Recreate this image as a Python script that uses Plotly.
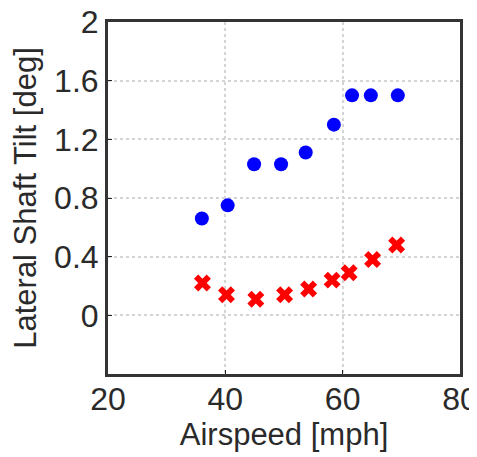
import plotly.graph_objects as go

airspeed_blue = [36.0, 40.4, 44.9, 49.5, 53.7, 58.5, 61.6, 64.8, 69.4]
tilt_blue = [0.66, 0.75, 1.03, 1.03, 1.11, 1.30, 1.50, 1.50, 1.50]

airspeed_red = [36.1, 40.2, 45.2, 50.1, 54.2, 58.2, 61.1, 65.1, 69.2]
tilt_red = [0.22, 0.14, 0.11, 0.14, 0.18, 0.24, 0.29, 0.38, 0.48]

x_ticks = [20, 40, 60, 80]
y_ticks = [0, 0.4, 0.8, 1.2, 1.6, 2]
y_tick_labels = ["0", "0.4", "0.8", "1.2", "1.6", "2"]

fig = go.Figure()
fig.add_trace(go.Scatter(x=airspeed_blue, y=tilt_blue, mode="markers",
                         marker=dict(symbol="circle", size=14, color="#0000ff"),
                         showlegend=False))
fig.add_trace(go.Scatter(x=airspeed_red, y=tilt_red, mode="markers",
                         marker=dict(symbol="x", size=15, color="#ff0000",
                                     line=dict(width=0)),
                         showlegend=False))

tick_font = dict(family="Liberation Sans, Arial, sans-serif", size=32, color="#2a2a2a")
title_font = dict(family="Liberation Sans, Arial, sans-serif", size=31, color="#2a2a2a")

fig.update_layout(
    width=469, height=449,
    margin=dict(l=100, r=17, t=14, b=83),
    paper_bgcolor="white", plot_bgcolor="white",
    font=tick_font,
    xaxis=dict(range=[20, 80], tickvals=x_ticks, ticktext=[str(v) for v in x_ticks],
               automargin=False, tickfont=tick_font, ticklabelstandoff=-5,
               ticklabeloverflow="allow",
               showline=True, mirror=True, linecolor="#333333", linewidth=3,
               ticks="inside", ticklen=4, tickcolor="#222222",
               showgrid=True, gridcolor="#d4d4d4", gridwidth=2, griddash="dot",
               zeroline=False,
               title=dict(text="Airspeed [mph]", font=title_font, standoff=6)),
    yaxis=dict(range=[-0.4, 2], tickvals=y_ticks, ticktext=y_tick_labels,
               automargin=False, tickfont=tick_font, ticklabeloverflow="allow",
               showline=True, mirror=True, linecolor="#333333", linewidth=3,
               ticks="inside", ticklen=4, tickcolor="#222222",
               showgrid=True, gridcolor="#d4d4d4", gridwidth=2, griddash="dot",
               zeroline=False, ticklabelstandoff=0,
               title=dict(text="Lateral Shaft Tilt [deg]", font=title_font, standoff=9)),
)

fig.write_html("out.html")
